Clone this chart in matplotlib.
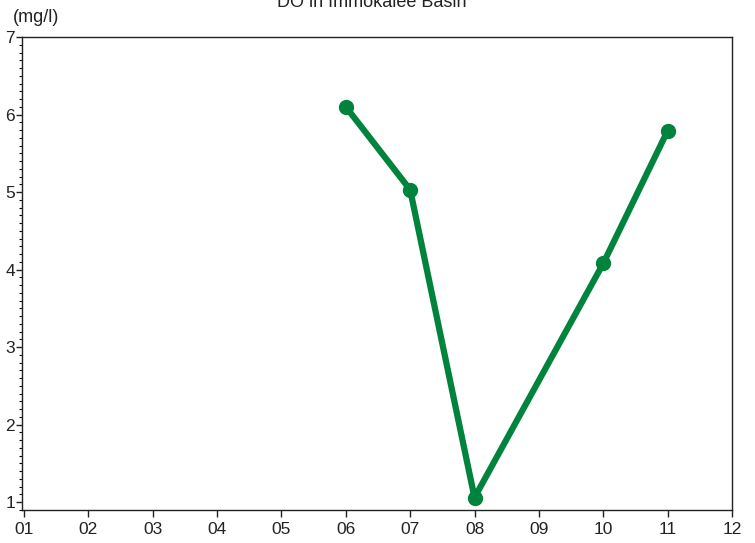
import numpy as np
import matplotlib.pyplot as plt
from matplotlib.ticker import MultipleLocator

plt.rcParams['font.family'] = ['Liberation Sans', 'DejaVu Sans']

months = ['01', '02', '03', '04', '05', '06', '07', '08', '09', '10', '11', '12']
obs_month = [6, 7, 8, 10, 11]
do_values = [6.10, 5.03, 1.06, 4.08, 5.79]

fig = plt.figure(figsize=(7.55, 5.43), dpi=100)
ax = fig.add_axes([22/755, 1 - 510/543, 710/755, 473/543])

ax.plot(obs_month, do_values, color='#00843d', lw=4.5, marker='o',
        markersize=10, solid_capstyle='round')

ax.set_xlim(0.97, 12)
ax.set_ylim(0.9, 7)
ax.set_xticks(range(1, 13))
ax.set_xticklabels(months)
ax.set_yticks(range(1, 8))
ax.yaxis.set_minor_locator(MultipleLocator(0.1))
ax.tick_params(axis='both', labelsize=12.5, direction='out', width=1, color='#222222',
               labelcolor='#222222')
ax.tick_params(axis='x', length=5, pad=4)
ax.tick_params(axis='y', which='major', length=4, pad=1)
ax.tick_params(axis='y', which='minor', length=2.5, width=0.8)
for s in ax.spines.values():
    s.set_linewidth(1)
    s.set_color('#222222')

fig.text(372/755, 1 - 7/543, 'DO in Immokalee Basin', ha='center', va='baseline',
         fontsize=13, color='#222222')
fig.text(13/755, 1 - 22/543, '(mg/l)', ha='left', va='baseline', fontsize=13,
         color='#222222')

fig.savefig('out.png', dpi=100)
